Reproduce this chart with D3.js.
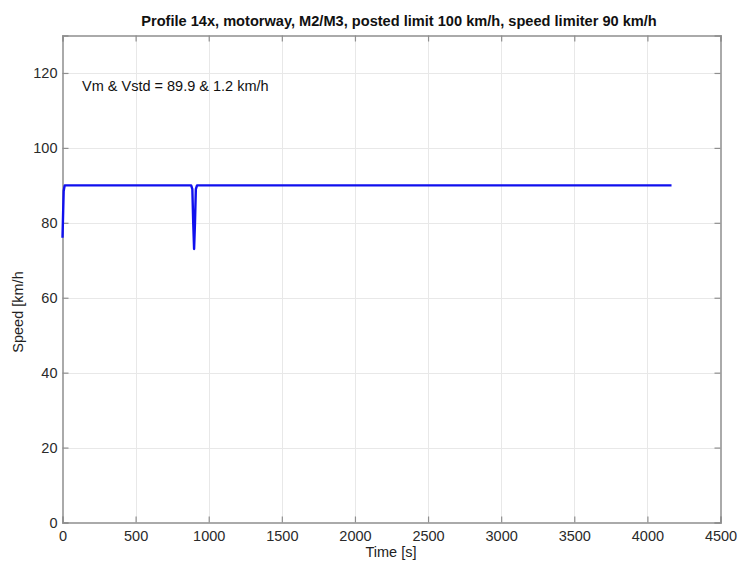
<!DOCTYPE html>
<html><head><meta charset="utf-8">
<script src="https://cdn.jsdelivr.net/npm/d3@7"></script>
<style>body{margin:0;background:#fff}svg{display:block}text{font-family:"Liberation Sans",Arial,sans-serif}</style>
</head><body><svg id="c" width="739" height="567"></svg>
<script>
const timeS = [0, 8, 15, 880, 888, 894, 900, 906, 912, 920, 4165];
const speedKmh = [76, 88.5, 90, 90, 89, 80, 73, 80, 89, 90, 90];
const xTicks = [0, 500, 1000, 1500, 2000, 2500, 3000, 3500, 4000, 4500];
const yTicks = [0, 20, 40, 60, 80, 100, 120];
const title = "Profile 14x, motorway, M2/M3, posted limit 100 km/h, speed limiter 90 km/h";
const note = "Vm & Vstd = 89.9 & 1.2 km/h";

const svg = d3.select("#c");
const L = 62.5, R = 720.5, T = 35.5, B = 522.5;
const x = d3.scaleLinear().domain([0, 4500]).range([L, R]);
const y = d3.scaleLinear().domain([0, 130]).range([B, T]);

svg.append("rect").attr("x", L).attr("y", T).attr("width", R - L).attr("height", B - T).attr("fill", "#fff");

// grid
svg.append("g").selectAll("line").data(xTicks.slice(1, -1)).join("line")
  .attr("x1", d => Math.round(x(d)) + 0.5).attr("x2", d => Math.round(x(d)) + 0.5)
  .attr("y1", T).attr("y2", B).attr("stroke", "#e8e8e8").attr("stroke-width", 1);
svg.append("g").selectAll("line").data(yTicks.slice(1)).join("line")
  .attr("y1", d => Math.round(y(d)) + 0.5).attr("y2", d => Math.round(y(d)) + 0.5)
  .attr("x1", L).attr("x2", R).attr("stroke", "#e8e8e8").attr("stroke-width", 1);

// axes
const xAxis = d3.axisBottom(x).tickValues(xTicks).tickSize(-6).tickPadding(8).tickFormat(d3.format("d"));
const gx = svg.append("g").attr("transform", `translate(0,${B})`).call(xAxis);
const yAxis = d3.axisLeft(y).tickValues(yTicks).tickSize(-6).tickPadding(5).tickFormat(d3.format("d"));
const gy = svg.append("g").attr("transform", `translate(${L},0)`).call(yAxis);
const gxt = svg.append("g").attr("transform", `translate(0,${T})`).call(d3.axisTop(x).tickValues(xTicks).tickSize(-6).tickFormat(""));
const gyr = svg.append("g").attr("transform", `translate(${R},0)`).call(d3.axisRight(y).tickValues(yTicks).tickSize(-6).tickFormat(""));
[gx, gy, gxt, gyr].forEach(g => {
  g.select(".domain").attr("stroke", "#8f8f8f").attr("stroke-width", 1.5);
  g.selectAll(".tick line").attr("stroke", "#8f8f8f").attr("stroke-width", 1.2);
  g.selectAll(".tick text").attr("font-size", 14.5).attr("fill", "#2a2a2a").attr("font-family", "Liberation Sans, Arial, sans-serif");
});

// line
const line = d3.line().x((d, i) => x(timeS[i])).y(d => y(d)).curve(d3.curveLinear);
svg.append("path").datum(speedKmh).attr("d", line).attr("fill", "none")
  .attr("stroke", "#1010ee").attr("stroke-width", 2.4).attr("stroke-linejoin", "round");

// texts
svg.append("text").attr("x", 399).attr("y", 25.5).attr("text-anchor", "middle")
  .attr("font-size", 14.6).attr("font-weight", "bold").attr("fill", "#111").text(title);
svg.append("text").attr("x", 82).attr("y", 91).attr("font-size", 14.5).attr("fill", "#111").text(note);
svg.append("text").attr("x", 391).attr("y", 557).attr("text-anchor", "middle")
  .attr("font-size", 14.5).attr("fill", "#222").text("Time [s]");
svg.append("text").attr("transform", "translate(23,312) rotate(-90)").attr("text-anchor", "middle")
  .attr("font-size", 14.5).attr("fill", "#222").text("Speed [km/h");
</script></body></html>
